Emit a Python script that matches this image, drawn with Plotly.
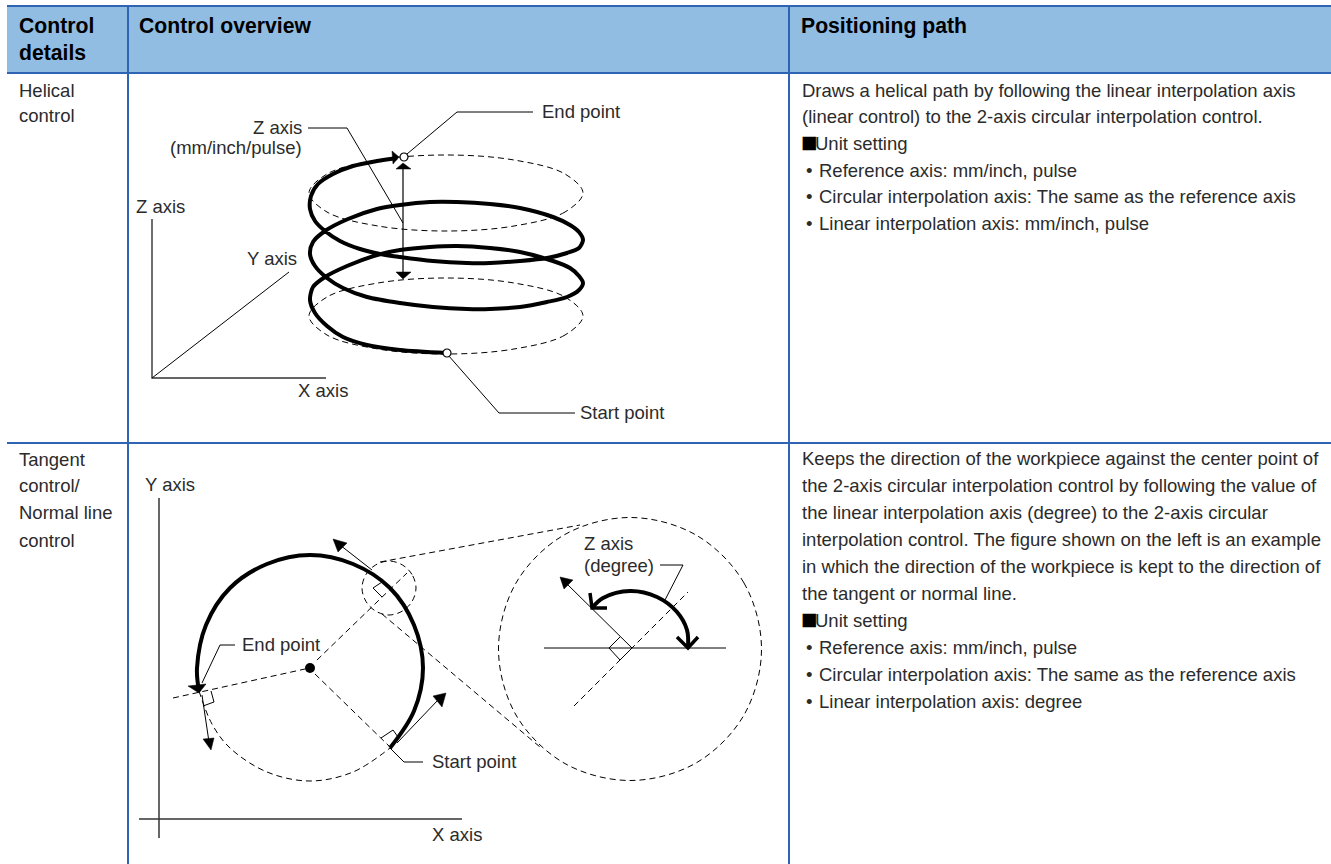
import plotly.graph_objects as go

W, H = 1331, 864
TXT = "#2b2b2b"
FONT = "Liberation Sans"

# ---------- table ----------
header_labels = [("Control", 18, 25.5), ("details", 18, 52.5), ("Control overview", 138, 25.5), ("Positioning path", 800, 25.5)]
first_col = [("Helical", 18, 90.5), ("control", 18, 115.5), ("Tangent", 18, 459.5), ("control/", 18, 485.5),
             ("Normal line", 18, 512.5), ("control", 18, 540.5)]
right_col = [
    ("Draws a helical path by following the linear interpolation axis", 801, 90.5),
    ("(linear control) to the 2-axis circular interpolation control.", 801, 116.5),
    ("Unit setting", 814, 143.5),
    ("Reference axis: mm/inch, pulse", 818, 170.5),
    ("Circular interpolation axis: The same as the reference axis", 818, 196.5),
    ("Linear interpolation axis: mm/inch, pulse", 818, 223.5),
    ("Keeps the direction of the workpiece against the center point of", 801, 458.5),
    ("the 2-axis circular interpolation control by following the value of", 801, 485.5),
    ("the linear interpolation axis (degree) to the 2-axis circular", 801, 512.5),
    ("interpolation control. The figure shown on the left is an example", 801, 539.5),
    ("in which the direction of the workpiece is kept to the direction of", 801, 566.5),
    ("the tangent or normal line.", 801, 593.5),
    ("Unit setting", 814, 620.5),
    ("Reference axis: mm/inch, pulse", 818, 647.5),
    ("Circular interpolation axis: The same as the reference axis", 818, 674.5),
    ("Linear interpolation axis: degree", 818, 701.5),
]
square_marks = [("■", 800, 142), ("■", 800, 619)]
bullet_marks = [("•", 805, 170.5), ("•", 805, 196.5), ("•", 805, 223.5), ("•", 805, 647.5), ("•", 805, 674.5), ("•", 805, 701.5)]
diagram_left = [("Z axis", 135, 206.5), ("Y axis", 246, 258.5), ("X axis", 297, 390.5), ("End point", 541, 111.5),
                ("Start point", 579, 412.5), ("Y axis", 144, 484.5), ("End point", 241, 644.5), ("Start point", 431, 761.5),
                ("X axis", 431, 834.5), ("Z axis", 583, 543.5), ("(degree)", 583, 565.5)]
diagram_right = [("Z axis", 303, 127.5), ("(mm/inch/pulse)", 303, 147.5)]

header_box = (7, 6, 1331, 73)
h_rules_y = [6, 73, 443]
v_rules_x = [128, 789]
v_rules_end = 864
left_rule_x = 7

# ---------- helix diagram ----------
helix_x = [447,400,367,343,327,315,310,313,325,347,377,400,430,457,490,520,553,570,579,583,579,567,547,520,490,467,
           433,400,367,343,327,315,310,313,325,348,377,400,430,457,490,520,553,570,579,583,579,567,547,520,490,
           467,433,400,380,360,340,325,315,310,311,318,333,353,377,397]
helix_y = [353,350,345,337,326,313,300,287,277,266,255,250,247,246,248,252,261,268,276,283,290,297,302,307,309,309,
           307,303,297,288,278,266,254,242,231,219,209,205,202,202,204,208,217,225,232,240,248,253,258,261,263,
           263,261,257,254,249,241,231,221,209,196,184,174,166,161,158]
ell_x = [583,565,514,446,378,327,309,327,378,446,514,565,583]
ell_top_y = [193,212,226,231,226,212,193,174,160,155,160,174,193]
ell_bot_y = [316,335,349,354,349,335,316,297,283,278,283,297,316]
z_span_x, z_span_y = [403, 403], [166, 275]
z_leader_x, z_leader_y = [308, 347, 403], [128, 128, 223]
end_leader_x, end_leader_y = [407, 457, 533], [154, 112, 112]
start_leader_x, start_leader_y = [448, 499, 575], [355, 413, 413]
zaxis_x, zaxis_y = [152, 152, 326], [219, 378, 378]
yaxis3_x, yaxis3_y = [152, 289], [378, 272]
helix_heads = [([392,399,393], [151,157,164]), ([403,396,411], [163,169,169]), ([396,411,403], [272,272,279])]
helix_points_x, helix_points_y = [404, 447], [157, 353]

# ---------- tangent diagram ----------
arc_x = [390,414,423,414,390,353,310,267,230,206,197,199]
arc_y = [748,711,668,625,588,564,555,564,588,625,668,691]
arc_rest_x = [199,212,230,267,310,353,390]
arc_rest_y = [691,724,748,772,781,772,748]
centre_x, centre_y = [310], [668]
radial_end_x, radial_end_y = [173, 305], [698, 669]
radial_start_x, radial_start_y = [315, 390], [674, 747]
radial_top_x, radial_top_y = [317, 407], [660, 573]
tangent_low_x, tangent_low_y = [382, 540], [614, 747]
tangent_high_x, tangent_high_y = [380, 580], [562, 525]
small_x = [416,412,402.5,389,375.5,366,362,366,375.5,389,402.5,412,416]
small_y = [588,574.5,565,561,565,574.5,588,601.5,611,615,611,601.5,588]
big_x = [761.5,744,696,630,564,516,498.5,516,564,630,696,744,761.5]
big_y = [649,583,535,517.5,535,583,649,715,763,780.5,763,715,649]
yaxis_x, yaxis_y = [159, 159], [498, 838]
xaxis_x, xaxis_y = [139, 462], [819, 819]
thin_paths = [
    ([372, 340], [570, 545]),
    ([397, 438], [743, 700]),
    ([202, 209], [695, 742]),
    ([235, 220, 202], [645, 645, 683]),
    ([390, 404, 423], [748, 762, 762]),
    ([211, 214, 203], [691, 702, 706]),
    ([381, 393, 398], [738, 730, 737]),
    ([382, 373, 382], [582, 588, 597]),
    ([544, 726], [648, 648]),
    ([632, 566], [648, 583]),
    ([620, 609, 620, 632], [637, 648, 660, 648]),
    ([660, 683, 665], [565, 565, 600]),
]
tangent_heads = [([333,347,338], [539,543,552]), ([446,442,433], [693,707,696]), ([211,203,214], [750,739,738]),
                 ([188,199,206], [686,693,684]), ([560,573,564], [577,580,589])]
zoom_diag_x, zoom_diag_y = [574, 688], [706, 592]
zoom_arc_x = [592,603,630,657,677,687,688]
zoom_arc_y = [608,598,591,597,612,630,648]
zoom_open_heads = [([590, 592, 607], [593, 608, 608]), ([677, 688, 698], [637, 648, 637])]

fig = go.Figure()

def line(x, y, w=1, color="#000000", dash=None, spline=False, smooth=1.0):
    fig.add_trace(go.Scatter(x=x, y=y, mode="lines", hoverinfo="skip", showlegend=False,
                             line=dict(width=w, color=color, dash=dash, shape="spline" if spline else "linear", smoothing=smooth)))

def head(x, y):
    fig.add_trace(go.Scatter(x=x + x[:1], y=y + y[:1], mode="lines", fill="toself", fillcolor="#000000",
                             hoverinfo="skip", showlegend=False, line=dict(width=0.5, color="#000000")))

DASH = "6px,4px"
# table
shapes = [dict(type="rect", x0=header_box[0], y0=header_box[1], x1=header_box[2], y1=header_box[3],
               fillcolor="#91BDE3", line_width=0, layer="below")]
BLUE = "#2F63B3"
for y in h_rules_y:
    shapes.append(dict(type="line", x0=left_rule_x, x1=W, y0=y, y1=y, line=dict(color=BLUE, width=2)))
for x in v_rules_x:
    shapes.append(dict(type="line", x0=x, x1=x, y0=h_rules_y[0], y1=v_rules_end, line=dict(color=BLUE, width=2)))

# helix
line(ell_x, ell_top_y, 1, dash=DASH, spline=True)
line(ell_x, ell_bot_y, 1, dash=DASH, spline=True)
line(helix_x, helix_y, 4, spline=True, smooth=0.8)
line(z_span_x, z_span_y, 1.2)
line(z_leader_x, z_leader_y)
line(end_leader_x, end_leader_y)
line(start_leader_x, start_leader_y)
line(zaxis_x, zaxis_y, 1.4, "#333333")
line(yaxis3_x, yaxis3_y)
for hx, hy in helix_heads:
    head(hx, hy)
fig.add_trace(go.Scatter(x=helix_points_x, y=helix_points_y, mode="markers", hoverinfo="skip", showlegend=False,
                         marker=dict(size=8, color="#ffffff", line=dict(color="#000000", width=1.2))))

# tangent
line(arc_rest_x, arc_rest_y, 1, dash=DASH, spline=True)
line(arc_x, arc_y, 4, spline=True)
for rx, ry in [(radial_end_x, radial_end_y), (radial_start_x, radial_start_y), (radial_top_x, radial_top_y),
               (tangent_low_x, tangent_low_y), (tangent_high_x, tangent_high_y), (zoom_diag_x, zoom_diag_y)]:
    line(rx, ry, 1, dash=DASH)
line(small_x, small_y, 1, dash=DASH, spline=True)
line(big_x, big_y, 1, dash=DASH, spline=True)
line(yaxis_x, yaxis_y, 1.2)
line(xaxis_x, xaxis_y, 1.4, "#333333")
for px, py in thin_paths:
    line(px, py, 1)
for hx, hy in tangent_heads:
    head(hx, hy)
line(zoom_arc_x, zoom_arc_y, 4, spline=True)
for ox, oy in zoom_open_heads:
    line(ox, oy, 3.5)
fig.add_trace(go.Scatter(x=centre_x, y=centre_y, mode="markers", hoverinfo="skip", showlegend=False,
                         marker=dict(size=10, color="#000000")))

ann = []
def text(items, size, color=TXT, anchor="left", bold=False, family=FONT):
    for t, x, y in items:
        ann.append(dict(x=x, y=y, text=f"<b>{t}</b>" if bold else t, showarrow=False, xanchor=anchor, yanchor="middle",
                        borderpad=0, font=dict(family=family, size=size, color=color)))
text(header_labels, 21.2, "#000000", bold=True)
text(first_col, 18.5)
text(right_col, 18.5)
text(bullet_marks, 18.5)
text(square_marks, 17.5, "#000000", family="DejaVu Sans")
text(diagram_left, 18.5)
text(diagram_right, 18.5, anchor="right")

fig.update_layout(width=W, height=H, margin=dict(l=0, r=0, t=0, b=0), paper_bgcolor="#ffffff", plot_bgcolor="#ffffff",
                  shapes=shapes, annotations=ann, showlegend=False,
                  xaxis=dict(range=[0, W], visible=False, fixedrange=True),
                  yaxis=dict(range=[H, 0], visible=False, fixedrange=True))
fig.write_html("out.html", config=dict(displayModeBar=False),
               post_script="document.body.style.margin='0';document.documentElement.style.overflow='hidden';")
